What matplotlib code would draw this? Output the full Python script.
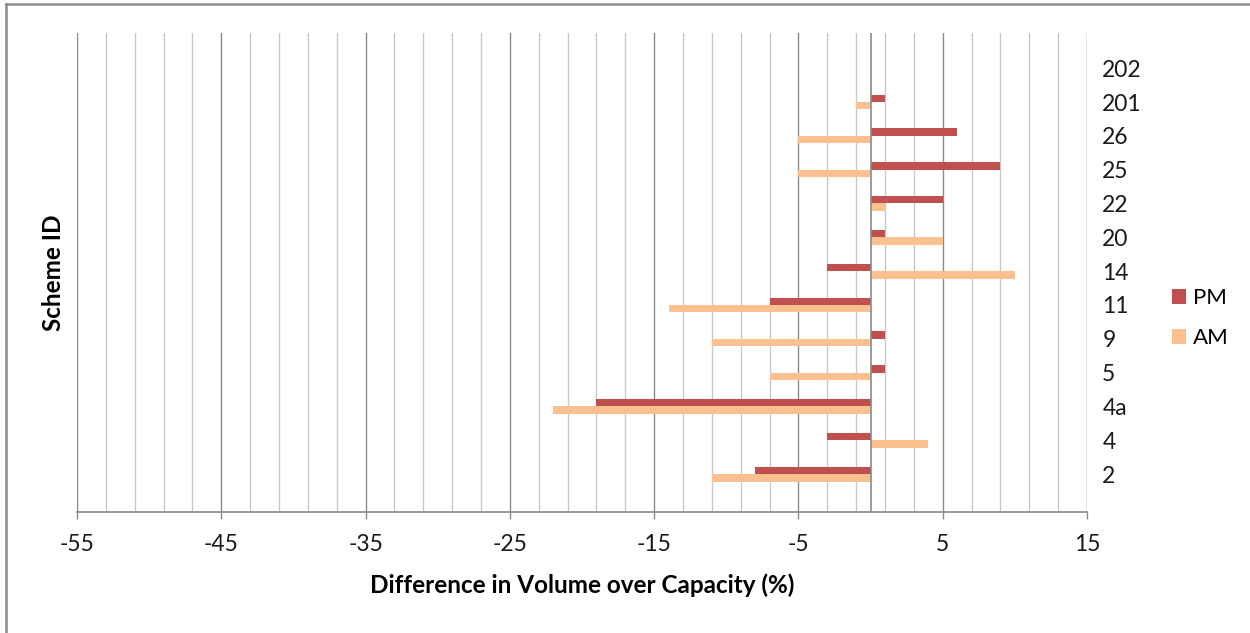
import numpy as np
import matplotlib.pyplot as plt
from matplotlib.lines import Line2D

plt.rcParams['font.family'] = ['Lato', 'DejaVu Sans']

# Scheme IDs, bottom to top
schemes = ['2', '4', '4a', '5', '9', '11', '14', '20', '22', '25', '26', '201', '202']
pm_diff = [-8, -3, -19, 1, 1, -7, -3, 1, 5, 9, 6, 1, 0]
am_diff = [-11, 4, -22, -7, -11, -14, 10, 5, 1, -5, -5, -1, 0]

major_ticks = [-55, -45, -35, -25, -15, -5, 5, 15]
minor_lines = list(range(-53, 15, 2))

PM_COLOR = '#C0504D'
AM_COLOR = '#FAC090'

fig = plt.figure(figsize=(12.5, 6.33), dpi=100)
ax = fig.add_axes([77 / 1250, 1 - 512 / 633, 1010 / 1250, 479 / 633])

y = np.arange(len(schemes))
h = 0.22
ax.barh(y + h / 2, pm_diff, height=h, color=PM_COLOR, label='PM', zorder=3)
ax.barh(y - h / 2, am_diff, height=h, color=AM_COLOR, label='AM', zorder=3)

# gridlines: light at odd values, darker at labelled ticks
for v in minor_lines:
    if v not in major_ticks:
        ax.axvline(v, color='#C8C8C8', lw=1.0, zorder=1)
for v in major_ticks:
    ax.axvline(v, color='#8A8A8A', lw=1.0, zorder=1)
ax.axvline(0, color='#8A8A8A', lw=1.2, zorder=4)

ax.set_xlim(-55, 15)
ax.set_ylim(-1.12, 13.04)
ax.set_xticks(major_ticks)
ax.set_xticklabels([str(t) for t in major_ticks])
ax.tick_params(axis='x', direction='out', length=5, width=1, color='#8A8A8A',
               labelsize=16.5, pad=11, labelcolor='#1a1a1a')

ax.set_yticks(y)
ax.set_yticklabels(schemes)
ax.yaxis.tick_right()
ax.tick_params(axis='y', length=0, labelsize=16.5, pad=11, labelcolor='#1a1a1a')

for side in ['top', 'left', 'right']:
    ax.spines[side].set_visible(False)
ax.spines['bottom'].set_color('#8A8A8A')
ax.spines['bottom'].set_linewidth(1.2)

ax.set_xlabel('Difference in Volume over Capacity (%)', fontsize=17.5,
              fontweight='bold', labelpad=13)
ax.set_ylabel('Scheme ID', fontsize=17.5, fontweight='bold')
ax.yaxis.set_label_position('left')
ax.yaxis.set_label_coords(-0.012, 0.5)

fig.legend(loc='center left', bbox_to_anchor=(1172 / 1250, 1 - 318.5 / 633),
           frameon=False, fontsize=16, handlelength=0.65, handleheight=0.65,
           handletextpad=0.3, labelspacing=0.9, borderpad=0, borderaxespad=0)

# outer frame (left and top edges)
fig.add_artist(Line2D([6 / 1250, 6 / 1250], [0, 1 - 4 / 633],
                      transform=fig.transFigure, color='#8C8C8C', lw=1.8))
fig.add_artist(Line2D([6 / 1250, 1], [1 - 4 / 633, 1 - 4 / 633],
                      transform=fig.transFigure, color='#8C8C8C', lw=1.8))

fig.savefig('out.png', dpi=100)
